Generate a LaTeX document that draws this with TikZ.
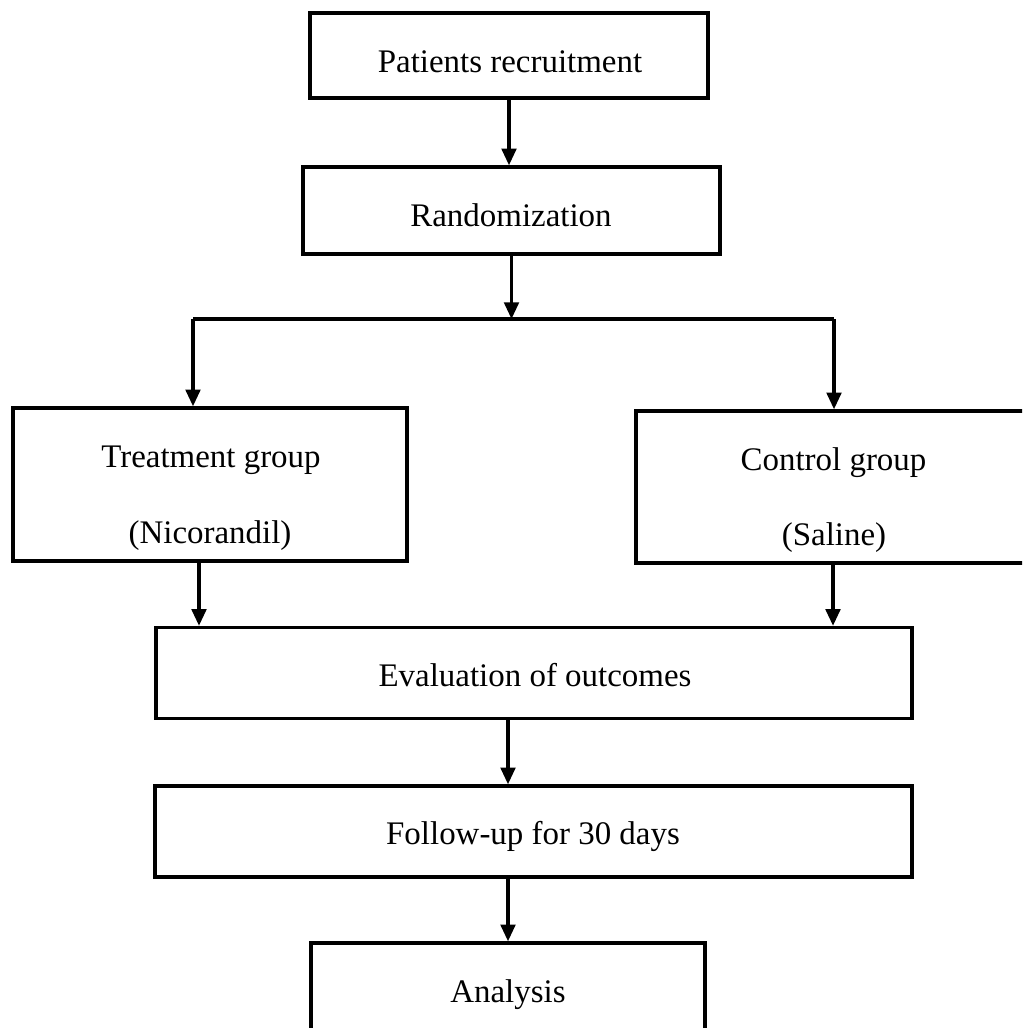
\documentclass[tikz,border=0pt]{standalone}
\usepackage{fontspec}
\setmainfont{Liberation Serif}
\usetikzlibrary{arrows.meta}
\begin{document}
\begin{tikzpicture}[x=0.75pt,y=-0.75pt,
  box/.style={draw,line width=2.6pt,inner sep=0pt,fill=white},
  txt/.style={font=\fontsize{24.7pt}{29.6pt}\selectfont,anchor=base,inner sep=0pt},
  ln/.style={line width=2.3pt},
  arr/.style={line width=2.3pt,-{Triangle[length=12.5pt,width=11pt]}}]
\useasboundingbox (0,0) rectangle (1022,1028);
\fill[white] (0,0) rectangle (1022,1028);
\clip (0,0) rectangle (1022,1028);
% boxes
\node[box,minimum width=298.5pt,minimum height=63.75pt] (b1) at (509,55.5) {};
\node[box,minimum width=312.75pt,minimum height=65.25pt] (b2) at (511.5,210.5) {};
\node[box,minimum width=295.5pt,minimum height=114.75pt] (b3) at (210,484.5) {};
\node[box,minimum width=295.5pt,minimum height=114pt] (b4) at (833,487) {};
\node[box,minimum width=567pt,minimum height=68.25pt] (b5) at (534,673) {};
\node[box,minimum width=567.75pt,minimum height=68.25pt] (b6) at (533.5,831.5) {};
\node[box,minimum width=295.5pt,minimum height=66.75pt] (b7) at (508,987.5) {};
% texts
\node[txt] (t1) at (510,72) {Patients recruitment};
\node[txt] (t2) at (511,226) {Randomization};
\node[txt] (t3a) at (211,467) {Treatment group};
\node[txt] (t3b) at (210,543) {(Nicorandil)};
\node[txt] (t4a) at (833.5,470) {Control group};
\node[txt] (t4b) at (834,545) {(Saline)};
\node[txt] (t5) at (535,686) {Evaluation of outcomes};
\node[txt] (t6) at (533,844) {Follow-up for 30 days};
\node[txt] (t7) at (508,1002) {Analysis};
% connectors
\coordinate (jn) at (512,319);
\coordinate (jl) at (193,319);
\coordinate (jr) at (834,319);
\draw[arr] (b1.south) -- (b1.south |- b2.north);
\draw[arr] (b2.south) -- (b2.south |- jn);
\draw[ln] (jl) -- (jr);
\draw[arr] (jl) -- (jl |- b3.north);
\draw[arr] (jr) -- (jr |- b4.north);
\draw[arr] ([xshift=-8.25pt]b3.south) -- ([xshift=-8.25pt]b3.south |- b5.north);
\draw[arr] (b4.south) -- (b4.south |- b5.north);
\draw[arr] (b5.south -| b7.north) -- (b7.north |- b6.north);
\draw[arr] (b6.south -| b7.north) -- (b7.north);
\end{tikzpicture}
\end{document}
